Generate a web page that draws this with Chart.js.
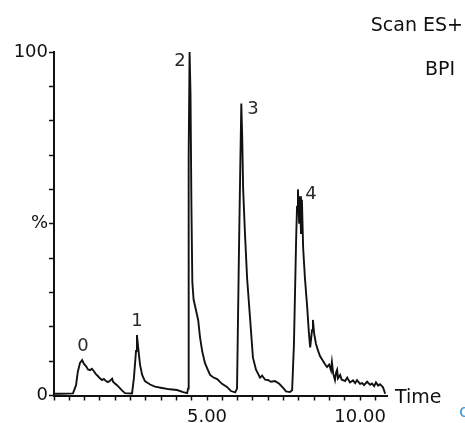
<!DOCTYPE html>
<html>
<head>
<meta charset="utf-8">
<script src="https://cdn.jsdelivr.net/npm/chart.js@4"></script>
<style>
body{margin:0;background:#fff}
#wrap{width:465px;height:423px;position:relative}
</style>
</head>
<body>
<div id="wrap"><canvas id="myChart"></canvas></div>
<script>
// retention time (min) and relative intensity (%)
const times = [0.00,0.20,0.62,0.72,0.78,0.85,0.92,0.98,1.05,1.11,1.18,1.24,1.31,1.37,1.44,1.50,1.57,1.63,1.70,1.76,1.83,1.90,1.93,1.99,2.06,2.16,2.22,2.32,
  2.55,2.61,2.68,2.71,2.75,2.81,2.88,2.97,3.14,3.30,3.53,3.79,4.02,4.22,4.35,
  4.38,4.40,4.43,4.46,4.49,4.52,4.56,4.61,4.71,4.77,4.84,4.93,5.03,5.10,5.20,5.33,5.49,5.65,5.78,5.92,
  5.98,6.04,6.08,6.12,6.15,6.18,6.24,6.31,6.41,6.50,6.60,6.67,6.73,6.80,6.90,6.99,7.09,7.22,7.35,7.48,7.58,7.71,
  7.78,7.84,7.91,7.94,7.97,8.01,8.04,8.07,8.10,8.14,8.20,8.27,8.33,8.37,8.43,8.46,8.50,8.56,8.63,8.69,8.76,8.86,8.92,8.99,
  9.05,9.08,9.12,9.18,9.22,9.25,9.28,9.35,9.40,9.44,9.51,9.58,9.67,9.77,9.84,9.90,10.00,10.07,10.13,10.23,10.33,10.39,10.46,10.52,10.59,10.65,10.75,10.82];
const intensity = [0.5,0.5,0.6,3.0,7.0,9.5,10.3,9.2,8.5,7.6,7.4,7.8,7.0,6.2,5.6,5.0,4.5,4.8,4.2,3.9,4.3,4.9,4.0,3.5,3.0,2.1,1.5,0.7,
  0.6,5.0,13.0,17.6,14.0,9.0,6.0,4.2,3.2,2.6,2.2,1.8,1.6,1.0,0.7,
  2.0,70,100,88,55,33,28,26,22,17,13,9.5,7.4,6.0,5.3,4.8,3.4,2.5,1.3,0.9,
  2.0,40,63,85,75,60,47,34,22,11,7.5,6.3,5.2,5.8,4.6,4.5,4.0,4.2,3.5,2.3,1.2,1.0,
  1.5,15,45,55,60,50,58,47,57,43,34,26,18,14,19,22,18,15,13,11.5,10.5,9.0,8.3,9.0,
  7.3,9.7,6.5,4.5,6.8,7.5,5.0,6.0,4.6,4.5,4.2,5.2,3.8,4.4,3.6,4.5,3.4,3.6,3.0,4.0,3.1,3.5,2.7,3.8,2.9,3.3,2.4,0.5];

const peakNames = ['0','1','2','3','4'];
const peakLabelTime = [0.95,2.71,4.12,6.50,8.40];
const peakLabelLevel = [14.4,21.7,97.4,83.3,58.7];

const xLabels = {5: '5.00', 10: '10.00'};
const yLabels = {100: '100', 50: '%', 0: '0'};

const points = times.map((t, i) => ({x: t, y: intensity[i]}));
const fontFam = "'DejaVu Sans', sans-serif";

const textPlugin = {
  id: 'texts',
  afterDatasetsDraw(chart) {
    const ctx = chart.ctx;
    const xs = chart.scales.x, ys = chart.scales.y;
    ctx.save();
    ctx.font = '18px ' + fontFam;
    ctx.fillStyle = '#2a2a2a';
    ctx.textAlign = 'center';
    ctx.textBaseline = 'middle';
    for (let i = 0; i < peakNames.length; i++) {
      ctx.fillText(peakNames[i], xs.getPixelForValue(peakLabelTime[i]), ys.getPixelForValue(peakLabelLevel[i]));
    }
    ctx.font = '19px ' + fontFam;
    ctx.fillStyle = '#111';
    ctx.textAlign = 'right';
    ctx.fillText('Scan ES+', 463, 26);
    ctx.fillText('BPI', 455, 70);
    ctx.textAlign = 'left';
    ctx.fillText('Time', chart.chartArea.right + 8, ys.getPixelForValue(0) + 3);
    ctx.fillStyle = '#3a9ad9';
    ctx.font = '18px ' + fontFam;
    ctx.fillText('c', 459, 412);
    ctx.restore();
  }
};

const ctx = document.getElementById('myChart').getContext('2d');
const myChart = new Chart(ctx, {
  type: 'line',
  data: {
    datasets: [{
      data: points,
      borderColor: '#111',
      borderWidth: 1.9,
      pointRadius: 0,
      tension: 0,
      fill: false
    }]
  },
  options: {
    responsive: true,
    maintainAspectRatio: false,
    animation: false,
    layout: {padding: {top: 52, right: 78, left: 0, bottom: 0}},
    plugins: {legend: {display: false}, tooltip: {enabled: false}},
    scales: {
      x: {
        type: 'linear',
        min: 0,
        max: 10.88,
        afterFit: s => { s.height = 27.5; },
        border: {display: true, color: '#111', width: 2},
        grid: {display: true, drawOnChartArea: false, drawTicks: true, tickLength: 5, tickWidth: 1.5, tickColor: '#111'},
        ticks: {
          stepSize: 0.5,
          includeBounds: false,
          autoSkip: false,
          maxRotation: 0,
          padding: 6,
          color: '#111',
          font: {family: fontFam, size: 18},
          callback: v => {
            for (const k in xLabels) { if (Math.abs(v - k) < 1e-6) return xLabels[k]; }
            return '';
          }
        }
      },
      y: {
        min: 0,
        max: 100,
        afterFit: s => { s.width = 54; },
        border: {display: true, color: '#111', width: 2},
        grid: {display: true, drawOnChartArea: false, drawTicks: true, tickLength: 5, tickWidth: 1.5, tickColor: '#111'},
        ticks: {
          stepSize: 10,
          autoSkip: false,
          padding: 1,
          color: '#111',
          font: {family: fontFam, size: 18},
          callback: v => (yLabels[v] !== undefined ? yLabels[v] : '')
        }
      }
    }
  },
  plugins: [textPlugin]
});
</script>
</body>
</html>
